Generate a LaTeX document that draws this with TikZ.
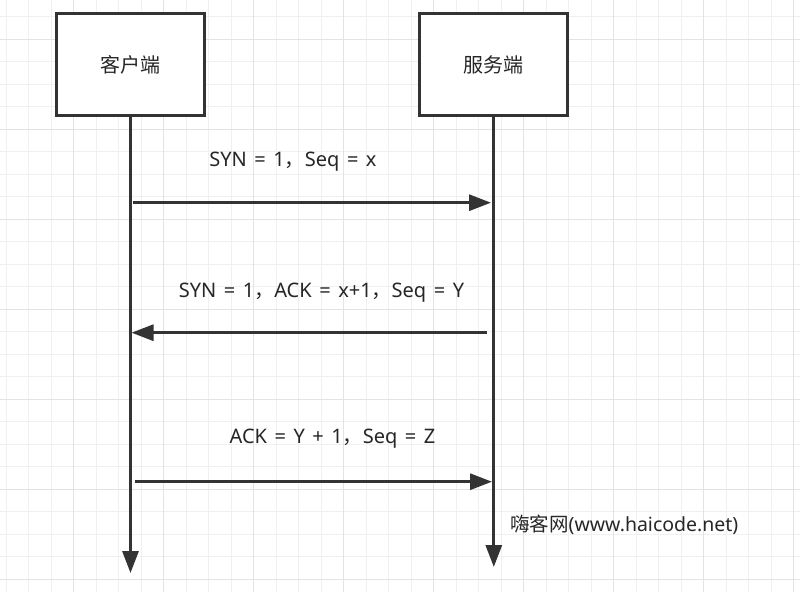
\documentclass[tikz,border=0pt]{standalone}
\usepackage{fontspec}
\setmainfont{Noto Sans}[WordSpace=1.45]
\newfontfamily\cjk{Noto Sans CJK SC}
\usetikzlibrary{arrows.meta}
\definecolor{ink}{HTML}{333333}
\definecolor{txt}{HTML}{262626}
\definecolor{gridminor}{HTML}{F0F0F0}
\definecolor{gridmajor}{HTML}{E3E3E3}
\begin{document}
\begin{tikzpicture}[x=1pt,y=-1pt,
  lane/.style={draw=ink, line width=3pt, fill=white, minimum width=148pt,
    minimum height=102pt, inner sep=0pt, text=txt,
    font=\fontsize{20}{24}\selectfont\cjk},
  msg/.style={draw=ink, line width=3pt, -{Triangle[length=22pt,width=16pt]}},
  lbl/.style={font=\fontsize{20}{24}\selectfont, text=txt, inner sep=0pt, anchor=base}]
\useasboundingbox (0,0) rectangle (800,592);
\fill[white] (0,0) rectangle (800,592);
% grid
\foreach \k in {0,...,35}{
  \pgfmathsetmacro{\gx}{6.2+22.5*\k}
  \draw[gridminor, line width=1pt] (\gx,0) -- (\gx,592);
}
\foreach \k in {0,...,25}{
  \pgfmathsetmacro{\gy}{16.8+22.5*\k}
  \draw[gridminor, line width=1pt] (0,\gy) -- (800,\gy);
}
\foreach \k in {0,...,8}{
  \pgfmathsetmacro{\gx}{73.7+90*\k}
  \draw[gridmajor, line width=1.2pt] (\gx,0) -- (\gx,592);
}
\foreach \k in {0,...,6}{
  \pgfmathsetmacro{\gy}{39.3+90*\k}
  \draw[gridmajor, line width=1.2pt] (0,\gy) -- (800,\gy);
}
% participants
\node[lane] (client) at (130.5,64.5) {客户端};
\node[lane] (server) at (493.8,64.5) {服务端};
% lifelines
\coordinate (cEnd) at (130.5,573);
\coordinate (sEnd) at (493.8,567);
\draw[msg] (client.south) -- (cEnd);
\draw[msg] (server.south) -- (sEnd);
% messages
\coordinate (a1s) at (132.7,202.7);
\coordinate (a1e) at (491,202.7);
\coordinate (a2s) at (487,332.7);
\coordinate (a2e) at (131.5,332.7);
\coordinate (a3s) at (134.8,481.7);
\coordinate (a3e) at (492,481.7);
\draw[msg] (a1s) -- (a1e);
\draw[msg] (a2s) -- (a2e);
\draw[msg] (a3s) -- (a3e);
% labels
\node[lbl] (m1) at (293,166) {SYN = 1{\cjk ，}Seq = x};
\node[lbl] (m2) at (321.5,297.7) {SYN = 1{\cjk ，}ACK = x+1{\cjk ，}Seq = Y};
\node[lbl] (m3) at (332.5,443) {ACK = Y + 1{\cjk ，}Seq = Z};
\node[lbl, anchor=base west, font=\fontsize{19.5}{23}\selectfont] (wm) at (510,531) {{\cjk 嗨客网}(www.haicode.net)};
\end{tikzpicture}
\end{document}
